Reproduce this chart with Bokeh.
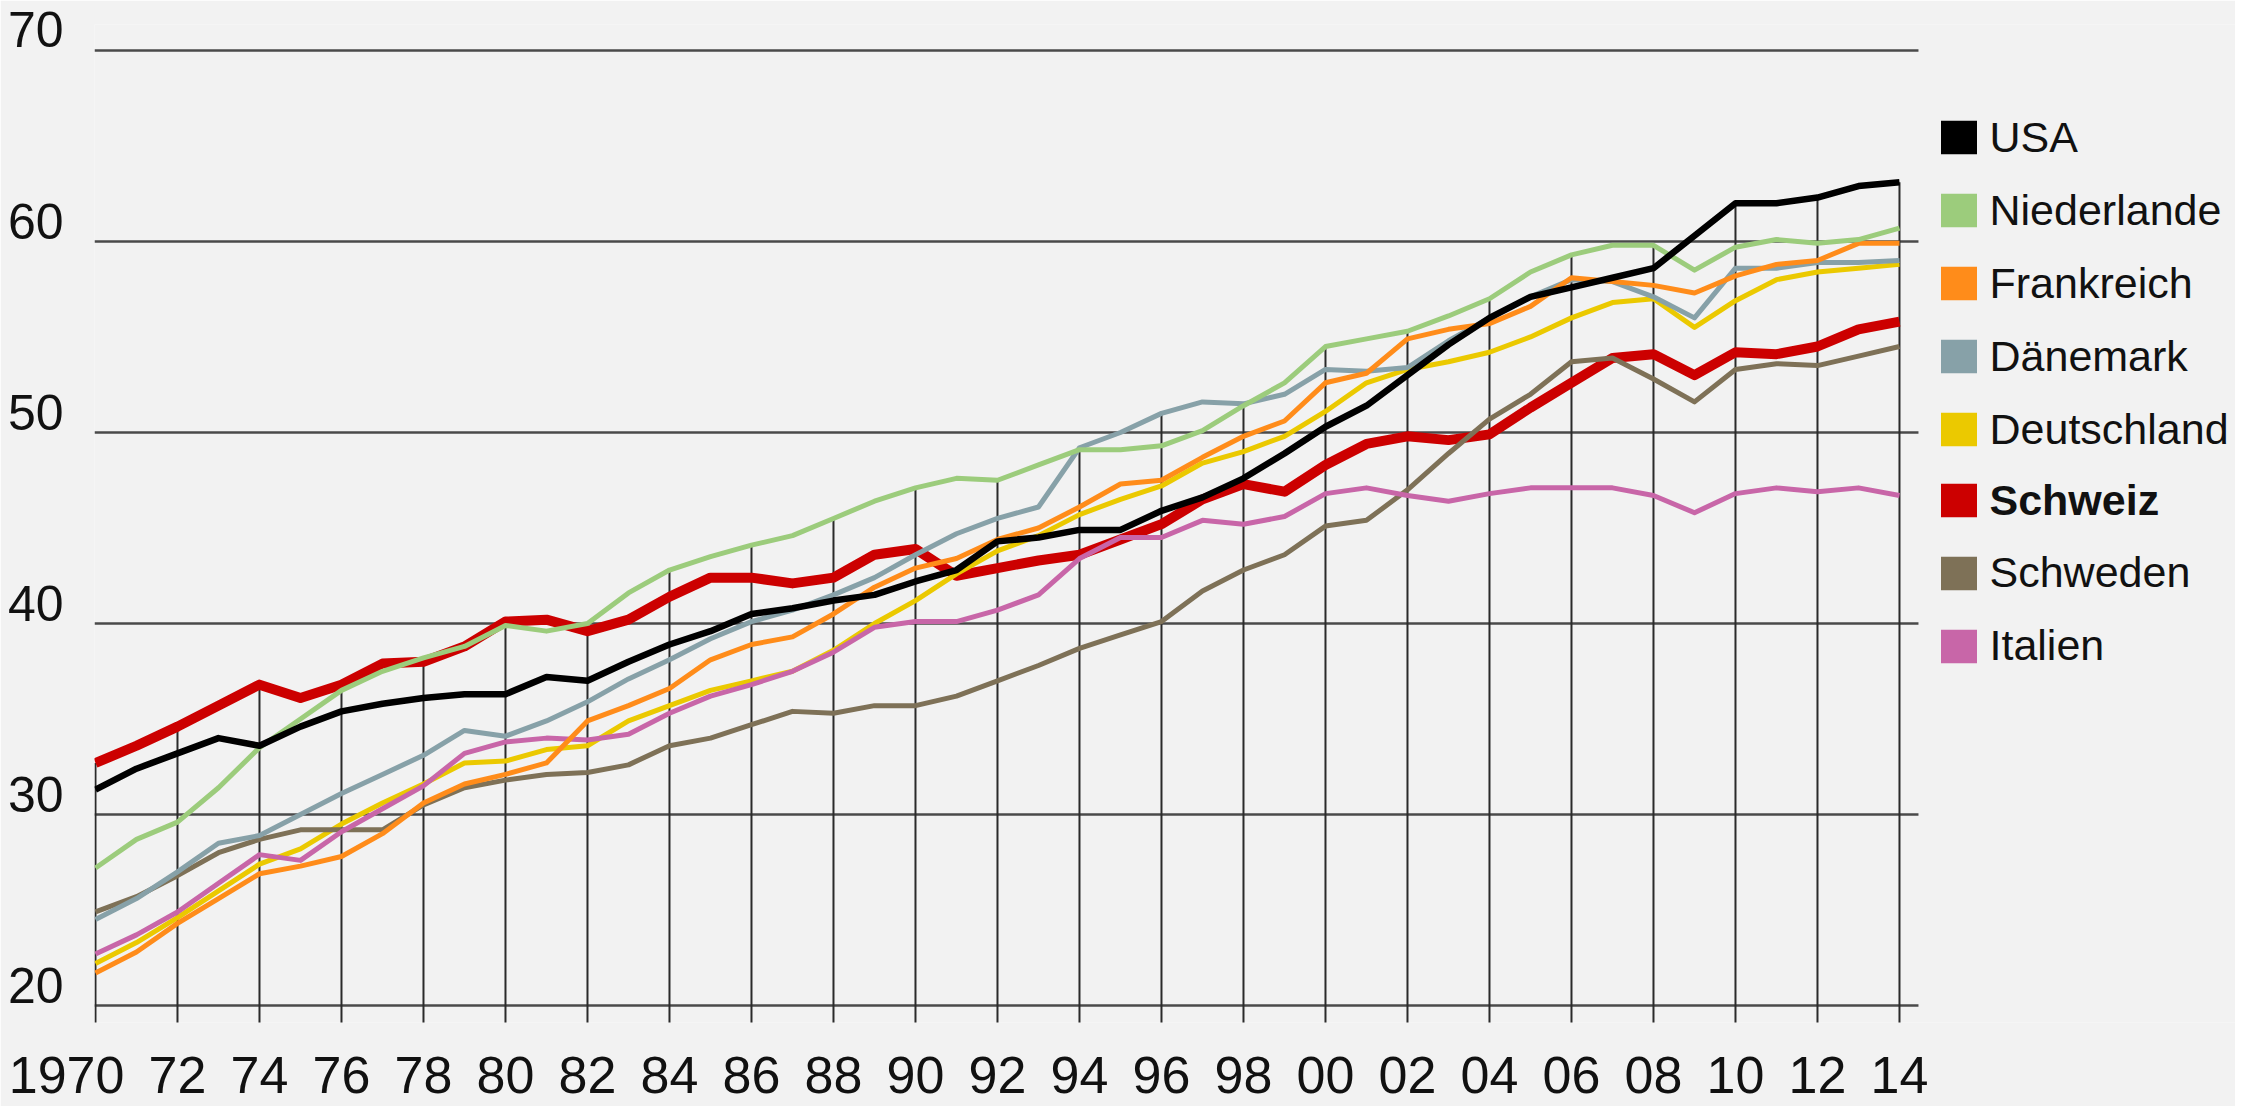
from bokeh.plotting import figure
from bokeh.models import (Range1d, LinearAxis, FixedTicker, Legend,
                          LegendItem, ColumnDataSource)
from bokeh.embed import file_html
from bokeh.resources import INLINE

# ---------------- data ----------------
years = list(range(1970, 2015))

usa = [31.3, 32.4, 33.2, 34.0, 33.6, 34.6, 35.4, 35.8, 36.1, 36.3,
       36.3, 37.2, 37.0, 38.0, 38.9, 39.6, 40.5, 40.8, 41.2, 41.5,
       42.2, 42.8, 44.3, 44.5, 44.9, 44.9, 45.9, 46.6, 47.6, 48.9,
       50.3, 51.4, 53.0, 54.6, 56.0, 57.1, 57.6, 58.1, 58.6, 60.3,
       62.0, 62.0, 62.3, 62.9, 63.1]
niederlande = [27.2, 28.7, 29.6, 31.4, 33.5, 35.0, 36.5, 37.5, 38.2, 38.8,
               39.9, 39.6, 40.0, 41.6, 42.8, 43.5, 44.1, 44.6, 45.5, 46.4,
               47.1, 47.6, 47.5, 48.3, 49.1, 49.1, 49.3, 50.1, 51.4, 52.6,
               54.5, 54.9, 55.3, 56.1, 57.0, 58.4, 59.3, 59.8, 59.8, 58.5,
               59.7, 60.1, 59.9, 60.1, 60.7]
frankreich = [21.7, 22.8, 24.3, 25.6, 26.9, 27.3, 27.8, 29.0, 30.6, 31.6,
              32.1, 32.7, 34.9, 35.7, 36.6, 38.1, 38.9, 39.3, 40.5, 41.9,
              42.9, 43.4, 44.4, 45.0, 46.1, 47.3, 47.5, 48.7, 49.8, 50.6,
              52.6, 53.1, 54.9, 55.4, 55.7, 56.6, 58.1, 57.9, 57.7, 57.3,
              58.2, 58.8, 59.0, 59.9, 59.9]
daenemark = [24.5, 25.6, 27.0, 28.5, 28.9, 30.0, 31.1, 32.1, 33.1, 34.4,
             34.1, 34.9, 35.9, 37.1, 38.1, 39.2, 40.1, 40.7, 41.5, 42.4,
             43.6, 44.7, 45.5, 46.1, 49.2, 50.0, 51.0, 51.6, 51.5, 52.0,
             53.3, 53.2, 53.4, 54.8, 56.0, 57.1, 58.0, 57.9, 57.1, 56.0,
             58.6, 58.6, 58.9, 58.9, 59.0]
deutschland = [22.2, 23.3, 24.6, 26.0, 27.4, 28.2, 29.5, 30.6, 31.6, 32.7,
               32.8, 33.4, 33.6, 34.9, 35.7, 36.5, 37.0, 37.5, 38.6, 40.0,
               41.2, 42.6, 43.8, 44.6, 45.7, 46.5, 47.2, 48.4, 49.0, 49.8,
               51.1, 52.6, 53.3, 53.7, 54.2, 55.0, 56.0, 56.8, 57.0, 55.5,
               56.9, 58.0, 58.4, 58.6, 58.8]
schweiz = [32.7, 33.6, 34.6, 35.7, 36.8, 36.1, 36.8, 37.9, 38.0, 38.8,
           40.1, 40.2, 39.6, 40.2, 41.4, 42.4, 42.4, 42.1, 42.4, 43.6,
           43.9, 42.5, 42.9, 43.3, 43.6, 44.4, 45.2, 46.5, 47.3, 46.9,
           48.3, 49.4, 49.8, 49.6, 49.9, 51.3, 52.6, 53.9, 54.1, 53.0,
           54.2, 54.1, 54.5, 55.4, 55.8]
schweden = [24.9, 25.7, 26.8, 28.0, 28.7, 29.2, 29.2, 29.2, 30.5, 31.4,
            31.8, 32.1, 32.2, 32.6, 33.6, 34.0, 34.7, 35.4, 35.3, 35.7,
            35.7, 36.2, 37.0, 37.8, 38.7, 39.4, 40.1, 41.7, 42.8, 43.6,
            45.1, 45.4, 47.0, 48.9, 50.7, 52.0, 53.7, 53.9, 52.8, 51.6,
            53.3, 53.6, 53.5, 54.0, 54.5]
italien = [22.7, 23.7, 24.9, 26.4, 27.9, 27.6, 29.1, 30.3, 31.5, 33.2,
           33.8, 34.0, 33.9, 34.2, 35.3, 36.2, 36.8, 37.5, 38.5, 39.8,
           40.1, 40.1, 40.7, 41.5, 43.4, 44.5, 44.5, 45.4, 45.2, 45.6,
           46.8, 47.1, 46.7, 46.4, 46.8, 47.1, 47.1, 47.1, 46.7, 45.8,
           46.8, 47.1, 46.9, 47.1, 46.7]

legend_names = ["USA", "Niederlande", "Frankreich", "Dänemark",
                "Deutschland", "Schweiz", "Schweden", "Italien"]
y_ticks = [20, 30, 40, 50, 60, 70]
x_ticks = list(range(1970, 2015, 2))
x_tick_labels = ["1970", "72", "74", "76", "78", "80", "82", "84", "86", "88",
                 "90", "92", "94", "96", "98", "00", "02", "04", "06", "08",
                 "10", "12", "14"]

# ---------------- styling ----------------
FONT = "Liberation Sans"
BG = "#f2f2f2"
colors = {
    "USA": "#000000", "Niederlande": "#9ccc7c", "Frankreich": "#ff8c1a",
    "Dänemark": "#87a1a8", "Deutschland": "#ebc900", "Schweiz": "#cc0000",
    "Schweden": "#7e7157", "Italien": "#c866a8",
}
widths = {"USA": 6.5, "Schweiz": 10}
data = {"USA": usa, "Niederlande": niederlande, "Frankreich": frankreich,
        "Dänemark": daenemark, "Deutschland": deutschland, "Schweiz": schweiz,
        "Schweden": schweden, "Italien": italien}
draw_order = ["Schweiz", "Deutschland", "Schweden", "Dänemark", "Italien",
              "Frankreich", "Niederlande", "USA"]

FIG_W, FIG_H = 2235, 1106
LEFT, TOP, BOTTOM = 94, 24, 81
FRAME_W = FIG_W - LEFT
Y0, Y1 = 19.113, 71.357
X0 = 1969.976
X1 = X0 + FRAME_W / 41.0        # frame reaches the right edge (legend lives inside)
GRID_END = 2014.463
DROP_BOTTOM = 19.0

p = figure(width=FIG_W, height=FIG_H, x_range=Range1d(X0, X1), y_range=Range1d(Y0, Y1),
           output_backend="svg", toolbar_location=None,
           x_axis_location=None, y_axis_location=None,
           min_border_left=LEFT, min_border_right=0, min_border_top=TOP,
           min_border_bottom=BOTTOM)
p.background_fill_color = BG
p.border_fill_color = BG
p.outline_line_color = None
p.xgrid.visible = False
p.ygrid.visible = False

# shifted range so that y labels sit just above their gridlines
shift = 1.07
p.extra_y_ranges = {"lab": Range1d(Y0 - shift, Y1 - shift)}

# horizontal gridlines
p.segment(x0=[X0] * len(y_ticks), y0=y_ticks, x1=[GRID_END] * len(y_ticks), y1=y_ticks,
          line_color="#4a4a4a", line_width=2.5)

# vertical drop lines from below the axis to the highest series value
tops = [max(data[n][years.index(yy)] for n in data) for yy in x_ticks]
p.segment(x0=x_ticks, y0=[DROP_BOTTOM] * len(x_ticks), x1=x_ticks, y1=tops,
          line_color="#2a2a2a", line_width=2)

for name in draw_order:
    src = ColumnDataSource(dict(x=years, y=data[name]))
    p.line("x", "y", source=src, line_color=colors[name],
           line_width=widths.get(name, 5), line_join="round")

# axes
overrides = {t: lab for t, lab in zip(x_ticks, x_tick_labels)}
overrides[1970] = "1970\u2007\u2007"   # the first year label sits left of its tick
yaxis = LinearAxis(y_range_name="lab", ticker=FixedTicker(ticks=y_ticks))
xaxis = LinearAxis(ticker=FixedTicker(ticks=x_ticks), major_label_overrides=overrides)
for ax, standoff, size in ((yaxis, 31, "50px"), (xaxis, 23, "52px")):
    ax.axis_line_color = None
    ax.major_tick_line_color = None
    ax.minor_tick_line_color = None
    ax.major_tick_out = 0
    ax.major_tick_in = 0
    ax.major_label_text_font = FONT
    ax.major_label_text_font_size = size
    ax.major_label_text_color = "#111111"
    ax.major_label_standoff = standoff
p.add_layout(yaxis, "left")
p.add_layout(xaxis, "below")

# legend swatches: zero-size quads that only provide the legend colour blocks
swatch = {}
for name in legend_names:
    swatch[name] = p.quad(left=[X0], right=[X0], top=[Y0], bottom=[Y0],
                          fill_color=colors[name], line_color=None)


def make_legend(names, bottom_px, bold=False):
    lg = Legend(items=[LegendItem(label=n, renderers=[swatch[n]]) for n in names],
                location=(1841.5, bottom_px), orientation="vertical",
                glyph_width=45, glyph_height=42, label_standoff=9,
                label_height=49, spacing=24, padding=0, margin=0,
                border_line_color=None, background_fill_alpha=0,
                label_text_font=FONT, label_text_font_size="43px",
                label_text_color="#111111",
                label_text_font_style="bold" if bold else "normal")
    p.add_layout(lg, "center")


make_legend(legend_names[:5], 568.5)
make_legend(legend_names[5:6], 497.5, bold=True)
make_legend(legend_names[6:], 352)

open("out.html", "w").write(file_html(p, INLINE))
